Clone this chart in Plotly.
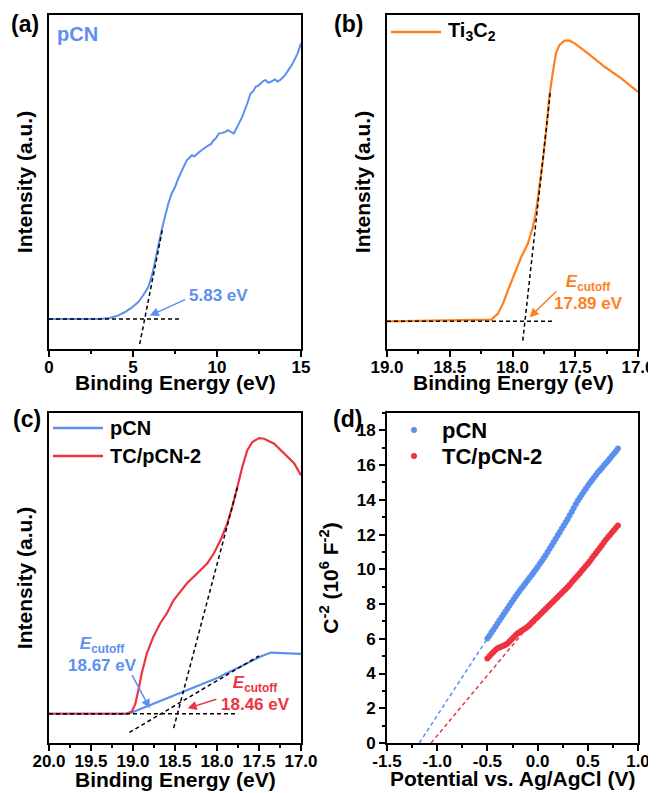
import plotly.graph_objects as go

# ---------------- data ----------------
# (a) pCN UPS spectrum (normalised intensity)
a_energy = [0, 1, 2, 3, 3.6, 4.1, 4.5, 4.9, 5.3, 5.6, 5.9, 6.1, 6.24, 6.4, 6.56, 6.7, 6.9, 7.1, 7.3, 7.5,
            7.73, 8.0, 8.2, 8.35, 8.5, 8.65, 8.8, 8.95, 9.1, 9.2, 9.35, 9.5, 9.65, 9.8, 9.95, 10.1, 10.3,
            10.5, 10.65, 10.8, 11.0, 11.2, 11.5, 11.8, 12.0, 12.15, 12.3, 12.45, 12.6, 12.75, 12.9, 13.05,
            13.2, 13.35, 13.45, 13.6, 13.75, 13.9, 14.05, 14.25, 14.45, 14.65, 14.8, 15.0]
a_intensity = [0.090, 0.090, 0.091, 0.090, 0.093, 0.100, 0.110, 0.123, 0.140, 0.160, 0.185, 0.215, 0.245,
               0.285, 0.325, 0.355, 0.395, 0.435, 0.465, 0.485, 0.515, 0.545, 0.565, 0.572, 0.580, 0.577,
               0.585, 0.590, 0.596, 0.600, 0.604, 0.610, 0.614, 0.625, 0.632, 0.645, 0.647, 0.650, 0.655,
               0.650, 0.645, 0.665, 0.695, 0.735, 0.765, 0.772, 0.785, 0.788, 0.795, 0.802, 0.805, 0.797,
               0.800, 0.804, 0.807, 0.801, 0.805, 0.812, 0.820, 0.835, 0.850, 0.870, 0.885, 0.915]
a_tan_x = [5.40, 6.74]
a_tan_y = [0.015, 0.355]
a_base_x = [0, 7.89]
a_base_y = [0.090, 0.090]

# (b) Ti3C2 secondary-electron cutoff
b_energy = [19.00, 18.41, 18.17, 18.117, 18.077, 18.037, 17.984, 17.931, 17.878, 17.838, 17.811, 17.785,
            17.758, 17.731, 17.707, 17.680, 17.654, 17.627, 17.585, 17.545, 17.505, 17.399, 17.266,
            17.133, 17.000]
b_intensity = [0.083, 0.085, 0.088, 0.105, 0.135, 0.175, 0.225, 0.275, 0.315, 0.365, 0.415, 0.485, 0.565,
               0.655, 0.755, 0.825, 0.885, 0.910, 0.923, 0.923, 0.915, 0.885, 0.845, 0.810, 0.770]
b_tan_x = [17.918, 17.697]
b_tan_y = [0.025, 0.775]
b_base_x = [19.0, 17.68]
b_base_y = [0.083, 0.083]

# (c) pCN and TC/pCN-2 cutoff
c_red_energy = [20.0, 19.075, 19.015, 18.975, 18.935, 18.895, 18.835, 18.756, 18.676, 18.596, 18.516,
                18.436, 18.357, 18.277, 18.197, 18.117, 18.037, 17.958, 17.878, 17.818, 17.758, 17.698,
                17.639, 17.579, 17.499, 17.439, 17.320, 17.200, 17.080, 17.000]
c_red_intensity = [0.0887, 0.0887, 0.0958, 0.116, 0.161, 0.212, 0.272, 0.323, 0.363, 0.393, 0.433, 0.459,
                   0.484, 0.504, 0.524, 0.544, 0.575, 0.615, 0.665, 0.716, 0.776, 0.837, 0.887, 0.912,
                   0.924, 0.922, 0.907, 0.877, 0.847, 0.811]
c_blue_energy = [20.0, 19.075, 19.015, 18.915, 18.795, 18.596, 18.396, 18.197, 17.998, 17.798, 17.599,
                 17.479, 17.359, 17.240, 17.120, 17.000]
c_blue_intensity = [0.0887, 0.0887, 0.0927, 0.103, 0.116, 0.136, 0.156, 0.176, 0.197, 0.222, 0.247,
                    0.262, 0.274, 0.272, 0.270, 0.270]
c_tan_red_x = [18.516, 17.758]
c_tan_red_y = [0.045, 0.774]
c_tan_blue_x = [19.043, 17.499]
c_tan_blue_y = [0.032, 0.264]
c_base_x = [20.0, 17.78]
c_base_y = [0.0887, 0.0887]

# (d) Mott-Schottky
d_potential = [-0.50, -0.48, -0.46, -0.44, -0.42, -0.40, -0.38, -0.36, -0.34, -0.32, -0.30, -0.28, -0.26,
               -0.24, -0.22, -0.20, -0.18, -0.16, -0.14, -0.12, -0.10, -0.08, -0.06, -0.04, -0.02, 0.00,
               0.02, 0.04, 0.06, 0.08, 0.10, 0.12, 0.14, 0.16, 0.18, 0.20, 0.22, 0.24, 0.26, 0.28, 0.30,
               0.32, 0.34, 0.36, 0.38, 0.40, 0.42, 0.44, 0.46, 0.48, 0.50, 0.52, 0.54, 0.56, 0.58, 0.60,
               0.62, 0.64, 0.66, 0.68, 0.70, 0.72, 0.74, 0.76, 0.78, 0.80]
d_pcn = [6.02, 6.18, 6.36, 6.52, 6.70, 6.88, 7.05, 7.22, 7.40, 7.57, 7.74, 7.92, 8.09, 8.26, 8.43, 8.60,
         8.75, 8.91, 9.06, 9.21, 9.36, 9.52, 9.66, 9.82, 9.97, 10.13, 10.30, 10.47, 10.64, 10.81, 10.99,
         11.18, 11.37, 11.56, 11.75, 11.94, 12.13, 12.33, 12.52, 12.71, 12.90, 13.11, 13.32, 13.53, 13.74,
         13.95, 14.12, 14.30, 14.47, 14.64, 14.81, 14.97, 15.12, 15.27, 15.42, 15.57, 15.71, 15.84, 15.98,
         16.11, 16.24, 16.38, 16.52, 16.66, 16.80, 16.95]
d_tc = [4.87, 5.00, 5.12, 5.24, 5.35, 5.45, 5.50, 5.55, 5.60, 5.66, 5.73, 5.84, 5.96, 6.08, 6.20, 6.31,
        6.38, 6.46, 6.54, 6.61, 6.69, 6.80, 6.92, 7.03, 7.15, 7.26, 7.37, 7.49, 7.60, 7.72, 7.83, 7.95,
        8.06, 8.18, 8.29, 8.41, 8.52, 8.64, 8.75, 8.87, 8.98, 9.11, 9.25, 9.38, 9.52, 9.65, 9.78, 9.92,
        10.05, 10.19, 10.32, 10.47, 10.62, 10.78, 10.93, 11.08, 11.23, 11.39, 11.54, 11.70, 11.85, 11.98,
        12.12, 12.25, 12.39, 12.52]
d_fit_pcn_x = [-1.178, -0.50]
d_fit_pcn_y = [0.0, 6.02]
d_fit_tc_x = [-1.061, -0.097]
d_fit_tc_y = [0.0, 6.69]

d_xtickvals = [-1.5, -1.0, -0.5, 0.0, 0.5, 1.0]
d_xticktext = ["-1.5", "-1.0", "-0.5", "0.0", "0.5", "1.0"]

# ---------------- style ----------------
FONT = "Liberation Sans, Arial, sans-serif"
BLUE = "#5b8ff0"
RED = "#ee3340"
ORANGE = "#ff7f1e"
OFF = 8                      # page body margin
W, H = 656 - OFF, 793 - OFF  # figure size inside the window
DASH = "4px,3px"


def px_x(p):
    return (p - OFF) / W


def px_y(p):
    return 1 - (p - OFF) / H


fig = go.Figure()

# (a)
fig.add_trace(go.Scatter(x=a_energy, y=a_intensity, mode="lines", line=dict(color=BLUE, width=2),
                         xaxis="x", yaxis="y", showlegend=False))
fig.add_trace(go.Scatter(x=a_tan_x, y=a_tan_y, mode="lines", line=dict(color="black", width=1.5, dash=DASH),
                         xaxis="x", yaxis="y", showlegend=False))
fig.add_trace(go.Scatter(x=a_base_x, y=a_base_y, mode="lines", line=dict(color="black", width=1.5, dash=DASH),
                         xaxis="x", yaxis="y", showlegend=False))
# (b)
fig.add_trace(go.Scatter(x=b_energy, y=b_intensity, mode="lines", line=dict(color=ORANGE, width=2.2),
                         xaxis="x2", yaxis="y2", showlegend=False))
fig.add_trace(go.Scatter(x=b_tan_x, y=b_tan_y, mode="lines", line=dict(color="black", width=1.5, dash=DASH),
                         xaxis="x2", yaxis="y2", showlegend=False))
fig.add_trace(go.Scatter(x=b_base_x, y=b_base_y, mode="lines", line=dict(color="black", width=1.5, dash=DASH),
                         xaxis="x2", yaxis="y2", showlegend=False))
# (c)
fig.add_trace(go.Scatter(x=c_blue_energy, y=c_blue_intensity, mode="lines", line=dict(color=BLUE, width=2.2),
                         xaxis="x3", yaxis="y3", showlegend=False))
fig.add_trace(go.Scatter(x=c_red_energy, y=c_red_intensity, mode="lines", line=dict(color=RED, width=2.2),
                         xaxis="x3", yaxis="y3", showlegend=False))
for xs, ys in [(c_tan_red_x, c_tan_red_y), (c_tan_blue_x, c_tan_blue_y), (c_base_x, c_base_y)]:
    fig.add_trace(go.Scatter(x=xs, y=ys, mode="lines", line=dict(color="black", width=1.5, dash=DASH),
                             xaxis="x3", yaxis="y3", showlegend=False))
# (d)
fig.add_trace(go.Scatter(x=d_potential, y=d_pcn, mode="markers", marker=dict(color=BLUE, size=6),
                         xaxis="x4", yaxis="y4", name="pCN", showlegend=False))
fig.add_trace(go.Scatter(x=d_potential, y=d_tc, mode="markers", marker=dict(color=RED, size=6),
                         xaxis="x4", yaxis="y4", name="TC/pCN-2", showlegend=False))
fig.add_trace(go.Scatter(x=d_fit_pcn_x, y=d_fit_pcn_y, mode="lines", line=dict(color=BLUE, width=1.5, dash=DASH),
                         xaxis="x4", yaxis="y4", showlegend=False))
fig.add_trace(go.Scatter(x=d_fit_tc_x, y=d_fit_tc_y, mode="lines", line=dict(color=RED, width=1.5, dash=DASH),
                         xaxis="x4", yaxis="y4", showlegend=False))

tickfont = dict(family=FONT, size=17, color="black", weight="bold")
titlefont = dict(family=FONT, size=21, color="black", weight="bold")

base = dict(showline=True, linecolor="black", linewidth=2, mirror=True, showgrid=False, zeroline=False,
            ticks="outside", ticklen=6, tickwidth=2, tickcolor="black", tickfont=tickfont, automargin=False)


def xax(domain, anchor, rng, dtick, minor_dtick, **kw):
    d = dict(base)
    d.update(domain=domain, anchor=anchor, range=rng, dtick=dtick, tick0=0, ticklabelstandoff=-4,
             minor=dict(ticks="outside", ticklen=3, tickwidth=2, tickcolor="black", dtick=minor_dtick, tick0=0,
                        showgrid=False))
    d.update(kw)
    return d


def yax_blank(domain, anchor):
    d = dict(base)
    d.update(domain=domain, anchor=anchor, range=[0, 1], ticks="", showticklabels=False,
             title=dict(text="Intensity (a.u.)", font=titlefont, standoff=9))
    return d


top_dom = [px_y(349), px_y(15)]
bot_dom = [px_y(743), px_y(413)]
left_dom = [px_x(49), px_x(301)]
right_dom = [px_x(387), px_x(638)]

layout = dict(
    width=W, height=H, margin=dict(l=0, r=0, t=0, b=0, autoexpand=False),
    paper_bgcolor="white", plot_bgcolor="white", showlegend=False,
    font=dict(family=FONT, color="black"),
    xaxis=xax(left_dom, "y", [0, 15], 5, 2.5),
    yaxis=yax_blank(top_dom, "x"),
    xaxis2=xax(right_dom, "y2", [19, 17], 0.5, 0.25, tickformat=".1f"),
    yaxis2=yax_blank(top_dom, "x2"),
    xaxis3=xax(left_dom, "y3", [20, 17], 0.5, 0.25, tickformat=".1f"),
    yaxis3=yax_blank(bot_dom, "x3"),
    xaxis4=xax(right_dom, "y4", [-1.5, 1.0], 0.5, 0.25,
               tickmode="array", tickvals=d_xtickvals, ticktext=d_xticktext),
    yaxis4=dict(base, domain=bot_dom, anchor="x4", range=[0, 19], dtick=2, tick0=0, ticklabelstandoff=0,
                minor=dict(ticks="outside", ticklen=3, tickwidth=2, tickcolor="black", dtick=1, tick0=0,
                           showgrid=False),
                title=dict(text="C<sup>-2</sup> (10<sup>6</sup> F<sup>-2</sup>)", font=titlefont, standoff=12)),
)
fig.update_layout(**layout)

annots = []
shapes = []
# panel labels
for lab, xp, yp in [("(a)", 25, 24), ("(b)", 348, 24), ("(c)", 27, 419), ("(d)", 347, 419)]:
    annots.append(dict(text=lab, x=px_x(xp), y=px_y(yp), xref="paper", yref="paper", showarrow=False,
                       xanchor="center", yanchor="middle",
                       font=dict(family=FONT, size=23, color="black", weight="bold")))

# x-axis titles
for txt, xp, yp in [("Binding Energy (eV)", 175, 382), ("Binding Energy (eV)", 513, 382),
                    ("Binding Energy (eV)", 175, 779), ("Potential vs. Ag/AgCl (V)", 512, 778)]:
    annots.append(dict(text=txt, x=px_x(xp), y=px_y(yp), xref="paper", yref="paper", showarrow=False,
                       xanchor="center", yanchor="middle", font=titlefont))

# legend samples for line panels (b), (c)
leg_font = dict(family=FONT, size=20, color="black", weight="bold")
for (x0, x1, yy, col, txt) in [(391, 441, 32, ORANGE, "Ti<sub>3</sub>C<sub>2</sub>"),
                               (53, 103, 428, BLUE, "pCN"),
                               (53, 103, 456, RED, "TC/pCN-2")]:
    shapes.append(dict(type="line", xref="paper", yref="paper", x0=px_x(x0), x1=px_x(x1),
                       y0=px_y(yy), y1=px_y(yy), line=dict(color=col, width=2.5)))
    annots.append(dict(text=txt, x=px_x(x1 + 5), y=px_y(yy), xref="paper", yref="paper", showarrow=False,
                       xanchor="left", yanchor="middle", font=leg_font))

# legend samples for the scatter panel (d)
for (xc, yy, col, txt) in [(414, 430, BLUE, "pCN"), (414, 456, RED, "TC/pCN-2")]:
    shapes.append(dict(type="circle", xref="paper", yref="paper", xsizemode="pixel", ysizemode="pixel",
                       xanchor=px_x(xc), yanchor=px_y(yy), x0=-3, x1=3, y0=-3, y1=3,
                       fillcolor=col, line=dict(width=0)))
    annots.append(dict(text=txt, x=px_x(440), y=px_y(yy), xref="paper", yref="paper", showarrow=False,
                       xanchor="left", yanchor="middle",
                       font=dict(family=FONT, size=22, color="black", weight="bold")))

ann_font = lambda c, s=17: dict(family=FONT, size=s, color=c, weight="bold")
ecut = "<i>E</i><sub>cutoff</sub>"
arrow = dict(text="", showarrow=True, arrowhead=2, arrowsize=1.2, arrowwidth=1.5, standoff=0)

# (a)
annots.append(dict(text="pCN", x=0.34, y=0.943, xref="x", yref="y", showarrow=False, xanchor="left",
                   yanchor="middle", font=ann_font(BLUE, 20)))
annots.append(dict(text="5.83 eV", x=10.07, y=0.16, xref="x", yref="y", showarrow=False,
                   font=ann_font(BLUE)))
annots.append(dict(arrow, x=6.0, y=0.10, ax=8.19, ay=0.15, xref="x", yref="y", axref="x", ayref="y",
                   arrowcolor=BLUE))
# (b)
annots.append(dict(text=ecut + "<br>17.89 eV", x=17.394, y=0.17, xref="x2", yref="y2", showarrow=False,
                   align="center", font=ann_font(ORANGE)))
annots.append(dict(arrow, x=17.864, y=0.095, ax=17.638, ay=0.177, xref="x2", yref="y2", axref="x2",
                   ayref="y2", arrowcolor=ORANGE))
# (c)
annots.append(dict(text=ecut + "<br>18.67 eV", x=19.36, y=0.267, xref="x3", yref="y3", showarrow=False,
                   align="center", font=ann_font(BLUE)))
annots.append(dict(arrow, x=18.80, y=0.105, ax=19.02, ay=0.21, xref="x3", yref="y3", axref="x3",
                   ayref="y3", arrowcolor=BLUE))
annots.append(dict(text=ecut + "<br>18.46 eV", x=17.539, y=0.149, xref="x3", yref="y3", showarrow=False,
                   align="center", font=ann_font(RED)))
annots.append(dict(arrow, x=18.35, y=0.105, ax=17.99, ay=0.134, xref="x3", yref="y3", axref="x3",
                   ayref="y3", arrowcolor=RED))

fig.update_layout(annotations=annots, shapes=shapes)
fig.write_html("out.html")
